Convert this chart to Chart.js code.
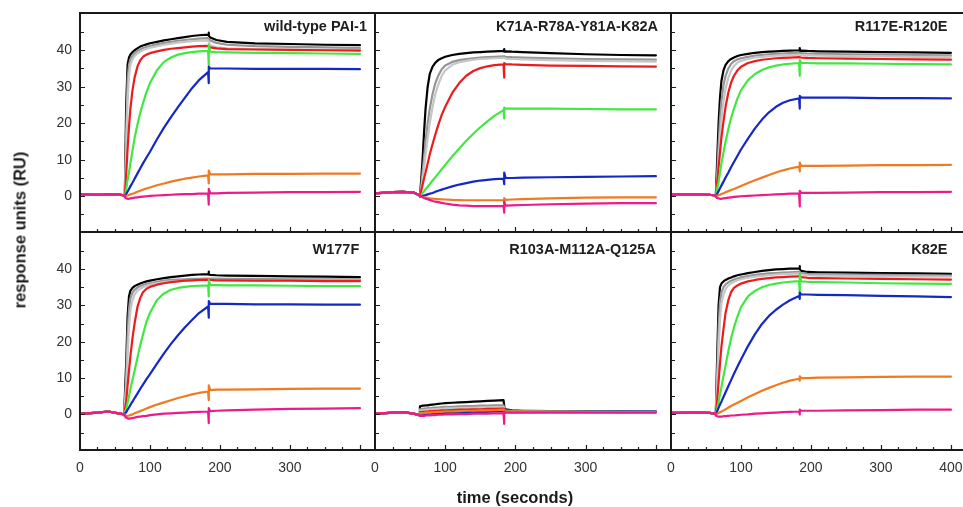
<!DOCTYPE html>
<html><head><meta charset="utf-8">
<script src="https://cdn.jsdelivr.net/npm/chart.js@4.4.1/dist/chart.umd.min.js"></script>
<style>
html,body{margin:0;padding:0;background:#fff;overflow:hidden;width:963px;height:507px;}
#wrap{position:relative;width:963px;height:507px;overflow:hidden;}
#wrap canvas{position:absolute;left:0;top:0;}
.axt{position:absolute;font:bold 16.5px "Liberation Sans",Arial,sans-serif;color:#1a1a1a;white-space:nowrap;}
</style></head><body>
<div id="wrap">
<div class="axt" style="left:20px;top:230px;transform:translate(-50%,-50%) rotate(-90deg);">response units (RU)</div>
<div class="axt" style="left:515px;top:497px;transform:translate(-50%,-50%);">time (seconds)</div>
</div>
<script>
// ---------- DATA ----------
const timeSec = [0,10,25,40,55,63, 64,66,68,70,72,75,78,82,86,90, 95,100,110,120,130,140,150,160,170,183, 184,184, 186,195,210,250,300,350,400];

const panelTitles = ["wild-type PAI-1","K71A-R78A-Y81A-K82A","R117E-R120E","W177F","R103A-M112A-Q125A","K82E"];
const xTickLabels = [0,100,200,300,400];
const yTickLabels = [0,10,20,30,40];

// wild-type PAI-1
const wtBlack   = [0.4,0.5,0.5,0.6,0.5,0.2, 0,25,36,38,38.8,39.5,40,40.5,41,41.3, 41.6,41.9,42.3,42.7,43,43.3,43.6,43.9,44.1,44.3, 44.8,44.0, 43.5,42.8,42.3,41.9,41.7,41.5,41.4];
const wtGray    = [0.4,0.5,0.5,0.6,0.5,0.2, 0,18,32,36,37.5,38.5,39.2,39.8,40.2,40.6, 40.9,41.2,41.6,42,42.3,42.6,42.8,43,43.2,43.3, 43.3,43.3, 42.7,42,41.5,41.1,40.9,40.8,40.6];
const wtLgray   = [0.4,0.5,0.5,0.6,0.5,0.2, 0,12,26,33,36,37.5,38.4,39.1,39.6,40, 40.4,40.7,41.1,41.5,41.8,42.1,42.3,42.5,42.6,42.7, 42.7,42.7, 41.3,40.8,40.5,40.3,40.2,40.1,40.1];
const wtRed     = [0.4,0.5,0.5,0.6,0.5,0.2, 0,6,13,19,24,29,32.5,35.5,37.2,38.2, 38.8,39.2,39.7,40.1,40.4,40.6,40.8,41,41.1,41.2, 41.2,41.2, 40.8,40.5,40.3,40.2,40.1,40,39.9];
const wtGreen   = [0.4,0.5,0.5,0.6,0.5,0.2, 0,2,4.5,6.5,9,12.5,16,19.5,22.8,25.5, 28.5,31,34.5,36.8,38,38.8,39.2,39.5,39.7,39.8, 36,41.5, 39.6,39.5,39.4,39.3,39.2,39.1,39];
const wtBlue    = [0.4,0.5,0.5,0.6,0.5,0.2, 0,0.6,1.3,2,2.7,3.7,4.8,6.2,7.6,9, 10.6,12.2,15.6,18.8,21.7,24.4,27,29.6,31.8,34, 31,35.5, 35,35,35,34.9,34.9,34.9,34.8];
const wtOrange  = [0.4,0.5,0.5,0.6,0.5,0.2, 0,0.1,0.2,0.4,0.5,0.7,0.9,1.2,1.5,1.8, 2.1,2.4,3,3.5,4,4.4,4.8,5.1,5.4,5.7, 3.5,7, 6,6,6,6.1,6.1,6.2,6.2];
const wtMagenta = [0.5,0.5,0.4,0.6,0.5,0.2, -0.3,-0.6,-0.7,-0.7,-0.6,-0.5,-0.4,-0.3,-0.2,-0.1, 0,0.1,0.2,0.3,0.4,0.5,0.6,0.6,0.7,0.8, -2.3,2, 0.8,0.8,0.9,1,1.1,1.1,1.2];

// K71A-R78A-Y81A-K82A
const k71Black   = [0.8,0.9,1.1,1.2,1,0.3, 0,5,11,18,24,30,33.5,35.5,36.6,37.3, 37.8,38.2,38.7,39,39.2,39.4,39.5,39.6,39.7,39.8, 40.3,39.6, 39.7,39.6,39.5,39.2,38.9,38.7,38.6];
const k71Gray    = [0.8,0.9,1.1,1.2,1,0.3, 0,3,7,11,15,20,24,28,31,33, 34.8,35.8,36.8,37.3,37.6,37.8,38,38.1,38.2,38.3, 38.3,38.3, 38.2,38.1,38,37.8,37.6,37.5,37.4];
const k71Lgray   = [0.8,0.9,1.1,1.2,1,0.3, 0,2,5,8,11.5,16,20,24.5,28,30.5, 33,34.5,36,36.7,37.1,37.4,37.6,37.7,37.8,37.9, 37.9,37.9, 37.7,37.6,37.5,37.3,37.1,37,36.9];
const k71Red     = [0.8,0.9,1.1,1.2,1,0.3, 0,1.7,3.3,5,6.5,9,11.5,14.3,17,19.5, 22.3,24.5,28.3,31,33,34.3,35.1,35.6,35.9,36.1, 32.5,36.5, 36.2,36.1,36,35.8,35.7,35.6,35.5];
const k71Green   = [0.8,0.9,1.1,1.2,1,0.3, 0,0.4,0.9,1.4,1.9,2.6,3.3,4.3,5.2,6.2, 7.4,8.6,10.9,13.1,15.2,17.1,18.9,20.5,22,23.6, 21.3,24.3, 24,24,24,24,23.9,23.8,23.8];
const k71Blue    = [0.8,0.9,1.1,1.2,1,0.3, 0,0.05,0.1,0.2,0.3,0.5,0.7,0.9,1.2,1.5, 1.8,2.1,2.7,3.2,3.6,4,4.3,4.5,4.7,4.8, 3.3,6.5, 5,5,5.1,5.2,5.3,5.4,5.5];
const k71Orange  = [0.8,0.9,1.1,1.2,1,0.3, 0,-0.1,-0.2,-0.3,-0.35,-0.45,-0.55,-0.65,-0.75,-0.8, -0.85,-0.9,-1,-1.05,-1.1,-1.1,-1.1,-1.1,-1.1,-1.1, -1.8,-0.5, -1,-0.9,-0.8,-0.6,-0.4,-0.3,-0.3];
const k71Magenta = [0.8,0.9,1.1,1.2,1,0.3, 0,-0.15,-0.3,-0.5,-0.65,-0.85,-1,-1.3,-1.5,-1.6, -1.8,-2,-2.3,-2.5,-2.6,-2.7,-2.7,-2.7,-2.7,-2.7, -4.5,-1.5, -2.6,-2.5,-2.4,-2.2,-2,-1.9,-1.9];

// R117E-R120E
const r117Black   = [0.4,0.5,0.5,0.5,0.4,0.2, 0,10,20,27,31.5,34.5,36,37,37.6,38, 38.4,38.7,39,39.3,39.5,39.6,39.7,39.8,39.9,40, 40.6,39.8, 39.9,39.8,39.7,39.6,39.5,39.4,39.3];
const r117Gray    = [0.4,0.5,0.5,0.5,0.4,0.2, 0,6,14,21,26,30.5,33,35,36.3,37, 37.5,37.8,38.2,38.5,38.7,38.9,39,39.1,39.2,39.3, 39.3,39.3, 39.2,39.1,39,38.9,38.8,38.7,38.6];
const r117Lgray   = [0.4,0.5,0.5,0.5,0.4,0.2, 0,4,10,16,21,26,29.5,32.5,34.5,35.7, 36.6,37.1,37.6,38,38.2,38.4,38.5,38.6,38.7,38.8, 38.8,38.8, 38.7,38.6,38.5,38.4,38.3,38.2,38.2];
const r117Red     = [0.4,0.5,0.5,0.5,0.4,0.2, 0,4,8,12,16,20.5,24.5,28.5,31.2,33, 34.5,35.5,36.5,37,37.4,37.6,37.8,37.9,38,38.1, 38.1,38.1, 38,37.9,37.8,37.7,37.6,37.5,37.4];
const r117Green   = [0.4,0.5,0.5,0.5,0.4,0.2, 0,2,4,6.5,9,12,15,18.5,21.5,24, 26.8,29,31.8,33.5,34.6,35.3,35.8,36.1,36.3,36.5, 33,37.3, 36.5,36.5,36.4,36.4,36.3,36.2,36.1];
const r117Blue    = [0.4,0.5,0.5,0.5,0.4,0.2, 0,0.7,1.4,2.2,2.9,4,5.1,6.5,8,9.4, 11.1,12.8,15.8,18.6,21,23,24.5,25.6,26.3,26.8, 24,27.5, 27,27,27,27,26.9,26.9,26.8];
const r117Orange  = [0.4,0.5,0.5,0.5,0.4,0.2, 0,0.1,0.3,0.4,0.6,0.8,1.1,1.4,1.7,2, 2.4,2.8,3.6,4.4,5.1,5.8,6.5,7.1,7.6,8.1, 6.8,9.2, 8.3,8.3,8.3,8.4,8.5,8.5,8.6];
const r117Magenta = [0.4,0.5,0.5,0.5,0.4,0.2, -0.2,-0.5,-0.6,-0.7,-0.7,-0.6,-0.5,-0.4,-0.3,-0.2, -0.1,0,0.1,0.2,0.3,0.4,0.5,0.6,0.7,0.8, -2.8,1.5, 0.9,0.9,0.9,1,1.1,1.1,1.2];

// W177F
const w177Black   = [0.3,0.3,0.5,0.8,0.3,0, 0,14,27,32.5,34,34.8,35.3,35.7,36,36.3, 36.6,36.8,37.2,37.5,37.8,38,38.2,38.4,38.5,38.6, 39.3,38.5, 38.4,38.3,38.2,38.1,38,37.9,37.8];
const w177Gray    = [0.3,0.3,0.5,0.8,0.3,0, 0,10,22,29,32,33.5,34.3,34.9,35.3,35.6, 35.9,36.1,36.5,36.8,37,37.1,37.2,37.3,37.3,37.4, 37.4,37.4, 37.4,37.4,37.3,37.3,37.2,37.2,37.2];
const w177Lgray   = [0.3,0.3,0.5,0.8,0.3,0, 0,7,16,24,28.5,31.5,33,34,34.6,35, 35.4,35.7,36.1,36.4,36.6,36.7,36.8,36.9,37,37, 37,37, 37,37,36.9,36.9,36.9,36.8,36.8];
const w177Red     = [0.3,0.3,0.5,0.8,0.3,0, 0,3.5,8,12,16,21,25,29.5,32,33.6, 34.6,35.1,35.7,36.1,36.4,36.6,36.8,36.9,37,37.1, 37.1,37.1, 37,36.9,36.9,36.8,36.8,36.7,36.7];
const w177Green   = [0.3,0.3,0.5,0.8,0.3,0, 0,1.5,3.2,5,7,9.5,12,15.5,19,22, 25.5,28,31.5,33.3,34.3,34.8,35.1,35.3,35.4,35.5, 32.5,37, 35.6,35.6,35.5,35.5,35.4,35.3,35.3];
const w177Blue    = [0.3,0.3,0.5,0.8,0.3,0, 0,0.6,1.3,1.9,2.6,3.5,4.5,5.7,7,8.2, 9.7,11.1,14,16.8,19.4,21.8,24,26,27.9,29.7, 26.6,31.2, 30.4,30.4,30.4,30.3,30.3,30.2,30.2];
const w177Orange  = [0.3,0.3,0.5,0.8,0.3,0, -0.3,-0.4,-0.4,-0.3,-0.2,0,0.3,0.6,0.9,1.2, 1.6,2,2.7,3.3,3.9,4.5,5,5.5,5.9,6.3, 3.9,8, 6.7,6.8,6.8,6.9,7,7.1,7.1];
const w177Magenta = [0.3,0.3,0.5,0.8,0.3,0, -0.5,-0.9,-1.1,-1.2,-1.1,-1,-0.9,-0.7,-0.6,-0.5, -0.4,-0.2,0,0.2,0.3,0.4,0.5,0.6,0.7,0.8, -2.4,1.7, 0.9,1,1.1,1.3,1.5,1.6,1.7];

// R103A-M112A-Q125A
const r103Black   = [0.3,0.3,0.5,0.6,0.2,-0.2, 2.2,2.3,2.4,2.4,2.5,2.5,2.6,2.7,2.8,2.9, 3,3.1,3.2,3.3,3.4,3.5,3.6,3.7,3.8,3.9, 2.5,1.8, 1.4,1.1,1,0.9,0.9,0.9,0.8];
const r103Gray    = [0.3,0.3,0.5,0.6,0.2,-0.2, 1.4,1.5,1.5,1.6,1.6,1.7,1.7,1.8,1.9,1.9, 2,2.1,2.1,2.2,2.3,2.3,2.4,2.4,2.5,2.5, 1.5,1.2, 1.1,1,0.9,0.9,0.8,0.8,0.8];
const r103Lgray   = [0.3,0.3,0.5,0.6,0.2,-0.2, 1,1.1,1.1,1.2,1.2,1.3,1.3,1.4,1.4,1.5, 1.5,1.6,1.6,1.7,1.8,1.8,1.9,1.9,2,2, 1.3,1.1, 1,0.9,0.9,0.8,0.8,0.8,0.8];
const r103Red     = [0.3,0.3,0.5,0.6,0.2,-0.2, 0.6,0.6,0.7,0.7,0.8,0.8,0.9,0.9,1,1, 1.1,1.1,1.2,1.3,1.3,1.4,1.4,1.5,1.5,1.6, 1.2,1, 0.9,0.8,0.8,0.7,0.7,0.6,0.6];
const r103Green   = [0.3,0.3,0.5,0.6,0.2,-0.2, 0.3,0.3,0.3,0.4,0.4,0.4,0.5,0.5,0.6,0.6, 0.6,0.7,0.7,0.8,0.8,0.9,0.9,1,1,1.1, 0.9,0.8, 0.8,0.7,0.7,0.7,0.7,0.7,0.7];
const r103Blue    = [0.3,0.3,0.5,0.6,0.2,-0.2, 0,0,0.1,0.1,0.1,0.2,0.2,0.3,0.3,0.3, 0.4,0.4,0.5,0.5,0.6,0.6,0.7,0.7,0.8,0.8, 0.6,0.6, 0.6,0.6,0.6,0.7,0.7,0.8,0.8];
const r103Orange  = [0.3,0.3,0.5,0.6,0.2,-0.2, 0.2,0.3,0.3,0.4,0.4,0.5,0.5,0.6,0.6,0.7, 0.7,0.8,0.8,0.9,1,1,1.1,1.1,1.2,1.3, 1,0.9, 0.8,0.7,0.7,0.7,0.6,0.6,0.6];
const r103Magenta = [0.3,0.3,0.5,0.6,0.2,-0.2, -0.4,-0.4,-0.4,-0.4,-0.3,-0.3,-0.3,-0.2,-0.2,-0.1, -0.1,0,0,0.1,0.1,0.2,0.2,0.2,0.3,0.3, -2.6,0.8, 0.5,0.5,0.5,0.5,0.5,0.5,0.5];

// K82E
const k82Black   = [0.4,0.4,0.5,0.5,0.4,0.2, 0,16,30,35,36,36.6,37,37.4,37.7,38, 38.3,38.5,38.9,39.2,39.5,39.7,39.9,40,40.1,40.2, 40.8,40, 39.5,39.2,39.1,39,38.9,38.8,38.7];
const k82Gray    = [0.4,0.4,0.5,0.5,0.4,0.2, 0,11,24,31,33.5,35,35.8,36.4,36.8,37.1, 37.4,37.7,38.1,38.4,38.6,38.8,38.9,39,39.1,39.2, 39.2,39.2, 38.9,38.7,38.6,38.5,38.4,38.3,38.2];
const k82Lgray   = [0.4,0.4,0.5,0.5,0.4,0.2, 0,8,18,26,30.5,33,34.5,35.5,36.1,36.5, 36.9,37.2,37.6,37.9,38.1,38.3,38.5,38.6,38.7,38.8, 38.8,38.8, 38.5,38.3,38.2,38.1,38,37.9,37.9];
const k82Red     = [0.4,0.4,0.5,0.5,0.4,0.2, 0,4,9,14,18.5,23.5,28,31.5,33.7,34.8, 35.5,36,36.6,37,37.3,37.5,37.7,37.8,37.9,38, 38,38, 37.8,37.6,37.5,37.4,37.3,37.2,37.1];
const k82Green   = [0.4,0.4,0.5,0.5,0.4,0.2, 0,1.5,3.5,5.5,7.5,10.5,13.5,17.5,21,24, 27,29.5,32.5,34,35,35.6,36,36.3,36.5,36.7, 33.2,38.7, 36.6,36.5,36.4,36.3,36.1,36,35.9];
const k82Blue    = [0.4,0.4,0.5,0.5,0.4,0.2, 0,0.9,1.8,2.7,3.5,4.8,6.1,7.8,9.5,11.2, 13.2,15.1,18.8,22.1,24.9,27.1,28.8,30.2,31.4,32.6, 31.8,33.5, 33,33,32.9,32.8,32.6,32.5,32.3];
const k82Orange  = [0.4,0.4,0.5,0.5,0.4,0.2, 0,0.2,0.4,0.6,0.8,1.1,1.4,1.9,2.3,2.7, 3.2,3.7,4.7,5.6,6.5,7.3,8,8.7,9.3,9.8, 9.3,10.5, 10,10,10.1,10.2,10.3,10.4,10.4];
const k82Magenta = [0.4,0.4,0.5,0.5,0.4,0.2, -0.3,-0.5,-0.6,-0.6,-0.6,-0.5,-0.5,-0.4,-0.3,-0.3, -0.2,-0.1,0,0.2,0.3,0.4,0.5,0.6,0.7,0.8, 0,1.3, 1,1,1,1.1,1.2,1.3,1.3];

// ---------- STYLE / LAYOUT ----------
const FONT = '"Liberation Sans", Arial, Helvetica, sans-serif';
const seriesColors = { magenta:'#ec1a8a', orange:'#f07a22', blue:'#1428c4', green:'#40e840', red:'#ec1c1c', lgray:'#c6c6c6', gray:'#959595', black:'#000000' };
const drawOrder = ['magenta','orange','blue','green','red','lgray','gray','black']; // first = on top

const panelSeries = [
  {black:wtBlack, gray:wtGray, lgray:wtLgray, red:wtRed, green:wtGreen, blue:wtBlue, orange:wtOrange, magenta:wtMagenta},
  {black:k71Black, gray:k71Gray, lgray:k71Lgray, red:k71Red, green:k71Green, blue:k71Blue, orange:k71Orange, magenta:k71Magenta},
  {black:r117Black, gray:r117Gray, lgray:r117Lgray, red:r117Red, green:r117Green, blue:r117Blue, orange:r117Orange, magenta:r117Magenta},
  {black:w177Black, gray:w177Gray, lgray:w177Lgray, red:w177Red, green:w177Green, blue:w177Blue, orange:w177Orange, magenta:w177Magenta},
  {black:r103Black, gray:r103Gray, lgray:r103Lgray, red:r103Red, green:r103Green, blue:r103Blue, orange:r103Orange, magenta:r103Magenta},
  {black:k82Black, gray:k82Gray, lgray:k82Lgray, red:k82Red, green:k82Green, blue:k82Blue, orange:k82Orange, magenta:k82Magenta}
];

const CW = 980, CH = 507;
const colLeft = [80, 375, 671], colRight = [375, 671, 966];
const rowTop = [13, 232], rowBottom = [232, 450];
const X_MIN = 0, X_MAX = 421.5, Y_MIN = -9.8, Y_MAX = 50.2;
// title anchor: x in seconds (right edge), y offset in px from panel top (baseline)
const titleAnchor = [[410,17.5],[403,17.5],[395,17.5],[399,22],[400,22],[395,22]];
const xLabelMax = [0,0,0,300,300,400];

const panelPlugin = {
  id: 'panelDeco',
  afterDatasetsDraw(chart, args, opts) {
    const {ctx, chartArea: a} = chart;
    const xs = chart.scales.x, ys = chart.scales.y;
    ctx.save();
    ctx.strokeStyle = '#1e1e1e';
    ctx.lineWidth = 1.2;
    ctx.beginPath();
    for (let v = -5; v <= 45; v += 5) {
      const py = Math.round(ys.getPixelForValue(v)) + 0.5;
      const len = (v % 10 === 0) ? 5 : 4;
      ctx.moveTo(a.left, py); ctx.lineTo(a.left + len, py);
    }
    for (let v = 25; v <= 400; v += 25) {
      const px = Math.round(xs.getPixelForValue(v)) + 0.5;
      const len = (v % 100 === 0) ? 5 : 3;
      ctx.moveTo(px, a.bottom); ctx.lineTo(px, a.bottom - len);
    }
    ctx.stroke();
    ctx.lineWidth = 2;
    ctx.strokeStyle = '#1a1a1a';
    ctx.strokeRect(a.left, a.top, a.right - a.left, a.bottom - a.top);
    ctx.font = 'bold 14.5px ' + FONT;
    ctx.fillStyle = '#1e1e1e';
    ctx.textAlign = 'right';
    ctx.textBaseline = 'alphabetic';
    ctx.fillText(opts.title, xs.getPixelForValue(opts.tx), a.top + opts.ty);
    ctx.restore();
  }
};

function zeroPad(s) { s.paddingTop = 0; s.paddingBottom = 0; s.paddingLeft = 0; s.paddingRight = 0; }

const wrap = document.getElementById('wrap');
panelTitles.forEach((title, p) => {
  const col = p % 3, row = Math.floor(p / 3);
  const cv = document.createElement('canvas');
  cv.width = CW; cv.height = CH;
  cv.style.width = CW + 'px'; cv.style.height = CH + 'px';
  wrap.insertBefore(cv, wrap.firstChild);
  const series = panelSeries[p];
  const datasets = drawOrder.map(name => ({
    label: name,
    data: timeSec.map((t, i) => ({x: t, y: series[name][i]})),
    borderColor: seriesColors[name],
    backgroundColor: seriesColors[name],
    borderWidth: 2.2,
    borderJoinStyle: 'round',
    borderCapStyle: 'round',
    pointRadius: 0,
    tension: 0,
    fill: false
  }));
  const showX = row === 1, showY = col === 0;
  const maxLab = xLabelMax[p];
  const yW = colLeft[col], xH = CH - rowBottom[row];
  new Chart(cv, {
    type: 'line',
    data: { datasets },
    plugins: [panelPlugin],
    options: {
      responsive: false,
      animation: false,
      devicePixelRatio: 1,
      layout: { padding: { left: 0, right: CW - colRight[col], top: rowTop[row], bottom: 0 } },
      plugins: {
        legend: { display: false },
        tooltip: { enabled: false },
        panelDeco: { title, tx: titleAnchor[p][0], ty: titleAnchor[p][1] }
      },
      scales: {
        x: {
          type: 'linear', min: X_MIN, max: X_MAX,
          afterBuildTicks: s => { s.ticks = xTickLabels.filter(v => v <= maxLab).map(v => ({value: v})); },
          afterFit: s => { s.height = xH; zeroPad(s); },
          grid: { display: false, drawTicks: false },
          border: { display: false },
          ticks: {
            display: showX, autoSkip: false, maxRotation: 0, padding: 10,
            color: '#333', font: { family: FONT, size: 14 },
            callback: v => String(v)
          }
        },
        y: {
          type: 'linear', min: Y_MIN, max: Y_MAX,
          afterBuildTicks: s => { s.ticks = yTickLabels.map(v => ({value: v})); },
          afterFit: s => { s.width = yW; zeroPad(s); },
          grid: { display: false, drawTicks: false },
          border: { display: false },
          ticks: {
            display: showY, autoSkip: false, padding: 8,
            color: '#333', font: { family: FONT, size: 14 },
            callback: v => String(v)
          }
        }
      }
    }
  });
});
</script>
</body></html>
